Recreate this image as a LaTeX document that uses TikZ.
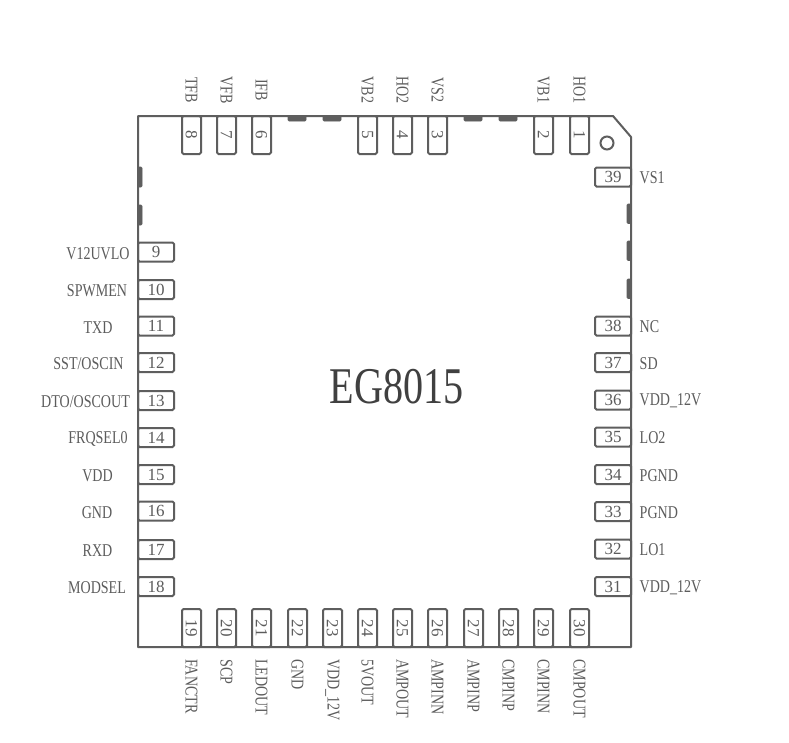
\documentclass[tikz,border=0pt]{standalone}
\usepackage{fontspec}
\setmainfont[FakeStretch=0.78]{Liberation Serif}
\newfontfamily\numfont{Liberation Serif}
\definecolor{linec}{HTML}{5E5E5E}
\definecolor{textc}{HTML}{5C5C5C}
\definecolor{titlec}{HTML}{404040}
\tikzset{
  x=1pt,y=-1pt,
  chip/.style={draw=linec,line width=2pt,line join=round},
  pinbox/.style={draw=linec,line width=2pt,rounded corners=1.5pt},
  notch/.style={fill=linec,draw=linec,line width=0.6pt,rounded corners=1pt},
  pinnum/.style={inner sep=0pt,text=textc,font=\fontsize{17}{17}\numfont},
  pinlabel/.style={inner sep=0pt,text=textc,font=\fontsize{18}{18}\selectfont},
  title/.style={inner sep=0pt,text=titlec,font=\fontsize{51.5}{52}\selectfont}
}
\begin{document}
\begin{tikzpicture}
\useasboundingbox (0,0) rectangle (789,742);
\fill[white] (0,0) rectangle (789,742);
% notches
\foreach \a in {288,323,464,499}{
  \draw[notch] (\a,116) rectangle ++(18,5);
  }
\foreach \b in {167,205}{
  \draw[notch] (138,\b) rectangle ++(4,20);
  }
\foreach \b in {204,241,279}{
  \draw[notch] (631,\b) rectangle ++(-4,19.5);
  }
% top pins: number / left edge / label
\foreach \n/\a/\t in {8/182/TFB,7/217/VFB,6/252/IFB,5/358/VB2,4/393/HO2,3/428/VS2,2/534/VB1,1/570/HO1}{
  \node[pinbox,minimum width=19pt,minimum height=38pt,inner sep=0pt] (p\n) at (\a+9.5,135) {};
  \node[pinnum,rotate=-90] (n\n) at (p\n.center) {\n};
  \node[pinlabel,rotate=-90] (l\n) at (\a+9.5,90) {\t};
}
% bottom pins
\foreach \n/\a/\t in {19/182/FANCTR,20/217/SCP,21/252/LEDOUT,22/288/GND,23/323/VDD\_12V,24/358/5VOUT,25/393/AMPOUT,26/428/AMPINN,27/464/AMPINP,28/499/CMPINP,29/534/CMPINN,30/570/CMPOUT}{
  \node[pinbox,minimum width=19pt,minimum height=38pt,inner sep=0pt] (p\n) at (\a+9.5,628) {};
  \node[pinnum,rotate=-90] (n\n) at (p\n.center) {\n};
  \node[pinlabel,rotate=-90,anchor=west] (l\n) at (\a+9.5,659) {\t};
}
% left pins
\foreach \n/\b/\c/\t in {9/252/98/V12UVLO,10/289.5/97/SPWMEN,11/326/98/TXD,12/362.5/88.5/SST\slash OSCIN,13/400.5/85.5/DTO\slash OSCOUT,14/437.5/98/FRQSEL0,15/474.5/97.5/VDD,16/511/97/GND,17/549.5/97.5/RXD,18/586.5/97/MODSEL}{
  \node[pinbox,minimum width=36pt,minimum height=19pt,inner sep=0pt] (p\n) at (156,\b) {};
  \node[pinnum] (n\n) at (p\n.center) {\n};
  \node[pinlabel] (l\n) at (\c,\b+1.5) {\t};
}
% right pins
\foreach \n/\b/\t in {39/177/VS1,38/326/NC,37/362.5/SD,36/400/VDD\_12V,35/437/LO2,34/474.5/PGND,33/511.5/PGND,32/549/LO1,31/586.5/VDD\_12V}{
  \node[pinbox,minimum width=36pt,minimum height=19pt,inner sep=0pt] (p\n) at (613,\b) {};
  \node[pinnum] (n\n) at (p\n.center) {\n};
  \node[pinlabel,anchor=west] (l\n) at (639.5,\b+1) {\t};
}
% package outline
\draw[chip] (138,116) -- (613,116) -- (631,137) -- (631,647) -- (138,647) -- cycle;
\node[circle,draw=linec,line width=2pt,minimum size=13pt,inner sep=0pt] (dot) at (607,143) {};
\node[title] (chipname) at (396.5,387) {EG8015};
\end{tikzpicture}
\end{document}
